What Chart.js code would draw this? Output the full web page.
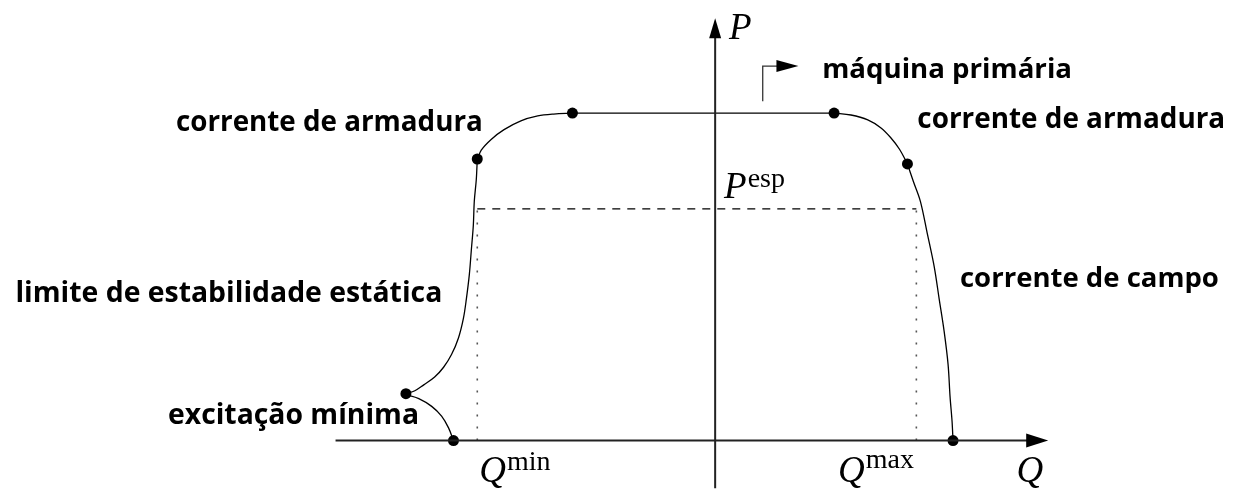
<!DOCTYPE html>
<html>
<head>
<meta charset="utf-8">
<script src="https://cdn.jsdelivr.net/npm/chart.js@4"></script>
<style>
html,body{margin:0;padding:0;background:#fff;}
#wrap{width:1241px;height:494px;position:relative;}
</style>
</head>
<body>
<div id="wrap"><canvas id="c" width="1241" height="494"></canvas></div>
<script>
// ---- data (Q = reactive power, P = active power, diagram units) ----
const minExcQ = [-312, -299, -286, -276, -269, -264];
const minExcP = [47, 43, 35, 25, 13, 0];
const stabQ = [-312, -303, -294, -283, -274, -266, -259, -254, -251, -248, -246, -244, -243, -241, -240];
const stabP = [48, 51, 57, 65, 75, 88, 105, 125, 145, 170, 195, 220, 245, 267, 288];
const armLeftQ = [-240, -236, -226, -213, -196, -179, -163, -144];
const armLeftP = [287, 297, 308, 318, 327, 332, 334, 335];
const primeQ = [-144, 120];
const primeP = [335, 335];
const armRightQ = [120, 137, 154, 167, 177, 186, 194];
const armRightP = [335, 333, 328, 320, 310, 298, 283];
const fieldQ = [194, 200, 207, 214, 221, 226, 231, 235, 237, 239, 240];
const fieldP = [283, 265, 245, 212, 178, 145, 112, 78, 45, 20, 0];
const cornerQ = [-312, -264, -240, -144, 120, 194, 240];
const cornerP = [48, 0, 288, 335, 335, 283, 0];
const Pesp = 237;
const Qmin = -240;
const Qmax = 203;
const qAxis = [-383, 322];
const pAxis = [-49, 425];
const primeArrowQ = [48, 48, 66];
const primeArrowP = [347, 383, 383];

const pts = (xs, ys) => xs.map((x, i) => ({x, y: ys[i]}));

const curve = (xs, ys) => ({
  type: 'line', data: pts(xs, ys), borderColor: '#000', borderWidth: 1.3,
  pointRadius: 0, tension: 0.35, fill: false
});
const straight = (xs, ys, extra) => Object.assign({
  type: 'line', data: pts(xs, ys), borderColor: '#000', borderWidth: 1.3,
  pointRadius: 0, tension: 0, fill: false
}, extra || {});

const datasets = [
  straight(qAxis, [0, 0], {borderColor: '#222', borderWidth: 2}),
  straight([0, 0], pAxis, {borderColor: '#222', borderWidth: 2}),
  straight([Qmin, Qmax], [Pesp, Pesp], {borderDash: [8, 7], borderWidth: 1.2}),
  straight([Qmin, Qmin], [0, Pesp], {borderDash: [2, 10], borderWidth: 1.6, borderColor: '#555'}),
  straight([Qmax, Qmax], [0, Pesp], {borderDash: [2, 10], borderWidth: 1.6, borderColor: '#555'}),
  curve(minExcQ, minExcP),
  curve(stabQ, stabP),
  curve(armLeftQ, armLeftP),
  straight(primeQ, primeP),
  curve(armRightQ, armRightP),
  curve(fieldQ, fieldP),
  straight(primeArrowQ, primeArrowP, {borderColor: '#333', borderWidth: 1.3}),
  {type: 'scatter', data: pts(cornerQ, cornerP), pointRadius: 5.5, pointBackgroundColor: '#000',
   pointBorderColor: '#000', pointBorderWidth: 0, showLine: false}
];

// arrowheads (tip, direction) and labels in diagram units
const arrowHeads = [
  {tip: [336, 0], dir: 'right', len: 22, half: 7},
  {tip: [0, 432], dir: 'up', len: 20, half: 6},
  {tip: [84, 383], dir: 'right', len: 22, half: 6}
];
const sansLabels = [
  {t: 'máquina primária', q: 108, p: 371, w: 250},
  {t: 'corrente de armadura', q: -544, p: 317, w: 307},
  {t: 'corrente de armadura', q: 204, p: 320, w: 308},
  {t: 'corrente de campo', q: 247, p: 157, w: 259},
  {t: 'limite de estabilidade estática', q: -706, p: 142, w: 427},
  {t: 'excitação mínima', q: -552, p: 17, w: 251}
];
const mathLabels = [
  {b: 'P', s: '', q: 14, p: 411},
  {b: 'P', s: 'esp', q: 9, p: 248, sy: 11},
  {b: 'Q', s: 'min', q: -238, p: -42, sy: 12},
  {b: 'Q', s: 'max', q: 124, p: -42, sy: 14},
  {b: 'Q', s: '', q: 304, p: -42}
];

const diagram = {
  id: 'diagram',
  afterDatasetsDraw(chart) {
    const ctx = chart.ctx, xs = chart.scales.x, ys = chart.scales.y;
    const X = v => xs.getPixelForValue(v), Y = v => ys.getPixelForValue(v);
    ctx.save();
    ctx.fillStyle = '#000';
    arrowHeads.forEach(a => {
      const tx = X(a.tip[0]), ty = Y(a.tip[1]);
      ctx.beginPath();
      if (a.dir === 'right') {
        ctx.moveTo(tx, ty); ctx.lineTo(tx - a.len, ty - a.half); ctx.lineTo(tx - a.len, ty + a.half);
      } else {
        ctx.moveTo(tx, ty); ctx.lineTo(tx - a.half, ty + a.len); ctx.lineTo(tx + a.half, ty + a.len);
      }
      ctx.closePath(); ctx.fill();
    });
    ctx.textBaseline = 'alphabetic';
    ctx.textAlign = 'left';
    sansLabels.forEach(l => {
      ctx.font = 'bold 20px "Open Sans"';
      const m = ctx.measureText(l.t).width;
      const size = 20 * l.w / m;
      ctx.font = 'bold ' + size.toFixed(2) + 'px "Open Sans"';
      ctx.fillText(l.t, X(l.q), Y(l.p));
    });
    mathLabels.forEach(l => {
      const x = X(l.q), y = Y(l.p);
      ctx.font = 'italic 37px "Liberation Serif"';
      ctx.fillText(l.b, x, y);
      const w = ctx.measureText(l.b).width;
      if (l.s) {
        ctx.font = '28px "Liberation Serif"';
        ctx.fillText(l.s, x + w + 1, y - l.sy);
      }
    });
    ctx.restore();
  }
};

new Chart(document.getElementById('c'), {
  data: {datasets},
  options: {
    responsive: false, animation: false,
    layout: {padding: 0},
    plugins: {legend: {display: false}, tooltip: {enabled: false}},
    scales: {
      x: {type: 'linear', min: -716, max: 525, display: false},
      y: {type: 'linear', min: -49, max: 445, display: false}
    }
  },
  plugins: [diagram]
});
</script>
</body>
</html>
